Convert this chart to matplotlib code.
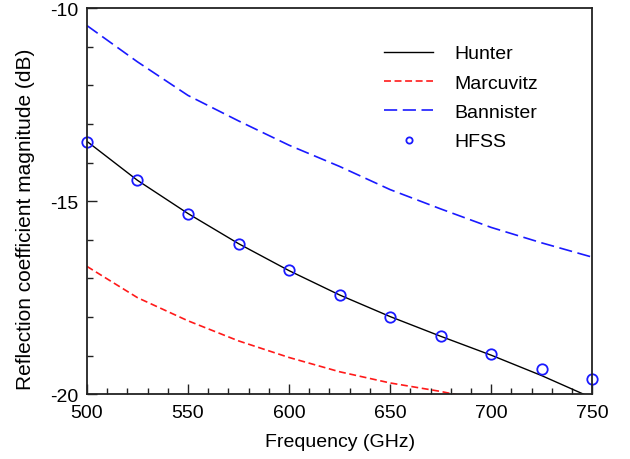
import matplotlib
matplotlib.use("Agg")
import matplotlib.pyplot as plt
from matplotlib.ticker import MultipleLocator, FormatStrFormatter

plt.rcParams['font.family'] = ['Liberation Sans', 'DejaVu Sans']
plt.rcParams['axes.unicode_minus'] = False
plt.rcParams['lines.scale_dashes'] = False

freq = [500, 525, 550, 575, 600, 625, 650, 675, 700, 725, 750]
hunter = [-13.45, -14.46, -15.32, -16.10, -16.80, -17.43, -17.99, -18.50, -18.99, -19.52, -20.10]
marcuvitz = [-16.69, -17.50, -18.10, -18.62, -19.05, -19.42, -19.71, -19.93, -20.20, -20.45, -20.70]
bannister = [-10.45, -11.39, -12.26, -12.92, -13.55, -14.10, -14.70, -15.20, -15.68, -16.08, -16.45]
hfss_freq = [500, 525, 550, 575, 600, 625, 650, 675, 700, 725, 750]
hfss = [-13.46, -14.46, -15.32, -16.11, -16.79, -17.43, -17.99, -18.50, -18.96, -19.34, -19.61]

fig = plt.figure(figsize=(6.3, 4.6), dpi=100)
ax = fig.add_axes([0.138, 0.141, 0.802, 0.839])

ax.plot(freq, hunter, color='black', lw=1.0, label='Hunter')
ax.plot(freq, marcuvitz, color='#ff1a1a', lw=1.2, dashes=(5.0, 2.6), label='Marcuvitz')
ax.plot(freq, bannister, color='#1a1aff', lw=1.2, dashes=(9.5, 4.0), label='Bannister')
ax.plot(hfss_freq, hfss, linestyle='none', marker='o', markersize=7.5,
        markerfacecolor='none', markeredgecolor='#1a1aff', markeredgewidth=1.3,
        label='HFSS', clip_on=False)

ax.set_xlim(500, 750)
ax.set_ylim(-20, -10)
ax.xaxis.set_major_locator(MultipleLocator(50))
ax.xaxis.set_minor_locator(MultipleLocator(10))
ax.yaxis.set_major_locator(MultipleLocator(5))
ax.yaxis.set_minor_locator(MultipleLocator(1))
ax.yaxis.set_major_formatter(FormatStrFormatter('%d'))
ax.tick_params(which='both', direction='in', top=False, right=False,
               labelsize=14, width=1.0, colors='#222222', labelcolor='black')
ax.tick_params(which='major', length=7)
ax.tick_params(which='minor', length=4.5)
ax.tick_params(axis='x', which='major', pad=7)
ax.tick_params(axis='y', which='major', pad=6.5)
for s in ax.spines.values():
    s.set_linewidth(1.3)
    s.set_color('#222222')

ax.set_xlabel('Frequency (GHz)', fontsize=14, labelpad=9)
ax.set_ylabel('Reflection coefficient magnitude (dB)', fontsize=15)
ax.yaxis.set_label_coords(-0.103, 0.456)

leg = ax.legend(loc='upper left', frameon=False, fontsize=14, handlelength=2.52,
                handletextpad=1.08, labelspacing=0.6, markerscale=0.6,
                borderpad=0, borderaxespad=0,
                bbox_to_anchor=(0.588, 0.905))

fig.savefig('out.png', dpi=100)
